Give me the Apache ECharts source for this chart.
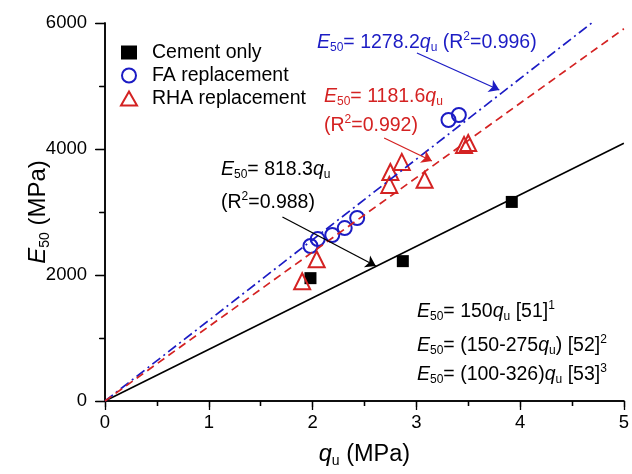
<!DOCTYPE html>
<html>
<head>
<meta charset="utf-8">
<script src="https://cdn.jsdelivr.net/npm/echarts@6/dist/echarts.min.js"></script>
<style>
  html, body { margin: 0; padding: 0; background: #fff; }
  #chart { width: 632px; height: 474px; }
</style>
</head>
<body>
<div id="chart"></div>
<script>
// measured points
var cementQ = [1.98, 2.87, 3.92];
var cementE = [1950, 2220, 3160];
var faQ = [1.98, 2.05, 2.19, 2.31, 2.43, 3.31, 3.41];
var faE = [2460, 2570, 2635, 2745, 2905, 4460, 4540];
var rhaQ = [1.90, 2.04, 2.74, 2.75, 2.86, 3.08, 3.46, 3.50];
var rhaE = [1900, 2250, 3430, 3635, 3795, 3510, 4065, 4095];

// fitted lines (end points)
var cementFit = [[0, 0], [5, 4092]];
var faFit = [[0, 0], [4.69, 6000]];
var rhaFit = [[0, 0], [5, 5908]];

var xTicks = [0, 1, 2, 3, 4, 5];
var yTicks = [0, 2000, 4000, 6000];

var FONT = 'Liberation Sans, Arial, sans-serif';
var BLUE = '#1c1cc4';
var RED = '#d42222';

function zip(a, b) {
  return a.map(function (v, i) { return [v, b[i]]; });
}

function richSet(color, size) {
  size = size || 19.5;
  var sub = Math.round(size * 0.6);
  var lh = Math.round(size + 3);
  return {
    i: { fontFamily: FONT, fontStyle: 'italic', fontSize: size, color: color, lineHeight: lh },
    n: { fontFamily: FONT, fontSize: size, color: color, lineHeight: lh },
    s: { fontFamily: FONT, fontSize: sub, color: color, lineHeight: sub, padding: [lh - sub, 0, 0, 0], verticalAlign: 'bottom' },
    p: { fontFamily: FONT, fontSize: sub, color: color, lineHeight: sub, padding: [0, 0, lh - sub, 0], verticalAlign: 'top' }
  };
}

function txt(x, y, text, color) {
  return {
    type: 'text', left: x, top: y, silent: true,
    style: { text: text, rich: richSet(color), fill: color }
  };
}

function arrow(color, from, to) {
  return {
    silent: true, symbol: ['none', 'arrow'], symbolSize: 10,
    label: { show: false },
    lineStyle: { color: color, width: 1.3, type: 'solid' },
    data: [[{ coord: from }, { coord: to }]]
  };
}

var chart = echarts.init(document.getElementById('chart'));

var axisLineStyle = { color: '#000', width: 1.5 };
var tickStyle = { color: '#000', width: 1.3 };

var option = {
  animation: false,
  backgroundColor: '#fff',
  grid: { left: 105, right: 3, top: 23, bottom: 73 },
  legend: {
    data: ['Cement only', 'FA replacement', 'RHA replacement'],
    orient: 'vertical',
    left: 115, top: 37,
    itemWidth: 16, itemHeight: 14, itemGap: 2,
    textStyle: { fontFamily: FONT, fontSize: 19.5, color: '#000', lineHeight: 21, padding: [0, 0, 0, 10] }
  },
  xAxis: [{
    type: 'value', min: 0, max: 5, interval: 1,
    name: '{i|q}{s|u}{n| (MPa)}',
    nameLocation: 'middle', nameGap: 40, nameMoveOverlap: false,
    nameTextStyle: { rich: richSet('#000', 23.5) },
    axisLine: { lineStyle: axisLineStyle },
    axisTick: { length: 9, lineStyle: tickStyle },
    minorTick: { show: true, splitNumber: 2, length: 5, lineStyle: tickStyle },
    axisLabel: {
      fontFamily: FONT, fontSize: 18.5, color: '#000', margin: 12,
      formatter: function (v) { return xTicks.indexOf(v) >= 0 ? String(v) : ''; }
    },
    splitLine: { show: false }
  }, {
    type: 'value', min: 0, max: 5, interval: 1, position: 'top',
    axisLine: { show: true, lineStyle: axisLineStyle },
    axisTick: { show: true, inside: true, length: 6, lineStyle: tickStyle },
    minorTick: { show: true, splitNumber: 2, length: 5, lineStyle: tickStyle },
    axisLabel: { show: false },
    splitLine: { show: false }
  }],
  yAxis: [{
    type: 'value', min: 0, max: 6000, interval: 2000,
    name: '{i|E}{s|50}{n| (MPa)}',
    nameLocation: 'middle', nameGap: 53, nameRotate: 90, nameMoveOverlap: false,
    nameTextStyle: { rich: richSet('#000', 24) },
    axisLine: { show: true, lineStyle: axisLineStyle },
    axisTick: { show: true, length: 10, lineStyle: tickStyle },
    minorTick: { show: true, splitNumber: 2, length: 5, lineStyle: tickStyle },
    axisLabel: {
      fontFamily: FONT, fontSize: 18.5, color: '#000', margin: 18,
      formatter: function (v) { return yTicks.indexOf(v) >= 0 ? String(v) : ''; }
    },
    splitLine: { show: false }
  }, {
    type: 'value', min: 0, max: 6000, interval: 2000, position: 'right',
    axisLine: { show: true, lineStyle: axisLineStyle },
    axisTick: { show: true, inside: true, length: 9, lineStyle: tickStyle },
    minorTick: { show: true, splitNumber: 2, length: 6, lineStyle: tickStyle },
    axisLabel: { show: false },
    splitLine: { show: false }
  }],
  series: [{
    name: 'cement fit', type: 'line', data: cementFit, showSymbol: false, silent: true,
    lineStyle: { color: '#000', width: 1.6 },
    markLine: arrow('#000', [1.71, 2921], [2.61, 2143])
  }, {
    name: 'FA fit', type: 'line', data: faFit, showSymbol: false, silent: true,
    lineStyle: { color: BLUE, width: 1.7, type: [10, 4, 2, 4] },
    markLine: arrow(BLUE, [3.006, 5524], [3.80, 4937])
  }, {
    name: 'RHA fit', type: 'line', data: rhaFit, showSymbol: false, silent: true,
    lineStyle: { color: RED, width: 1.7, type: [8, 5] },
    markLine: arrow(RED, [2.69, 4175], [3.15, 3810])
  }, {
    name: 'Cement only', type: 'scatter', data: zip(cementQ, cementE),
    symbol: 'rect', symbolSize: 12,
    itemStyle: { color: '#000', opacity: 1 }
  }, {
    name: 'FA replacement', type: 'scatter', data: zip(faQ, faE),
    symbol: 'circle', symbolSize: 14,
    itemStyle: { color: 'rgba(255,255,255,0)', borderColor: BLUE, borderWidth: 2, opacity: 1 }
  }, {
    name: 'RHA replacement', type: 'scatter', data: zip(rhaQ, rhaE),
    symbol: 'triangle', symbolSize: 16,
    itemStyle: { color: 'rgba(255,255,255,0)', borderColor: RED, borderWidth: 2, opacity: 1 }
  }],
  graphic: [
    txt(317, 31, '{i|E}{s|50}{n|= 1278.2}{i|q}{s|u}{n| (R}{p|2}{n|=0.996)}', BLUE),
    txt(324, 85, '{i|E}{s|50}{n|= 1181.6}{i|q}{s|u}', RED),
    txt(324, 114, '{n|(R}{p|2}{n|=0.992)}', RED),
    txt(221, 158, '{i|E}{s|50}{n|= 818.3}{i|q}{s|u}', '#000'),
    txt(221, 191, '{n|(R}{p|2}{n|=0.988)}', '#000'),
    txt(417, 300, '{i|E}{s|50}{n|= 150}{i|q}{s|u}{n| [51]}{p|1}', '#000'),
    txt(417, 334, '{i|E}{s|50}{n|= (150-275}{i|q}{s|u}{n|) [52]}{p|2}', '#000'),
    txt(417, 363, '{i|E}{s|50}{n|= (100-326)}{i|q}{s|u}{n| [53]}{p|3}', '#000')
  ]
};

chart.setOption(option);
</script>
</body>
</html>
